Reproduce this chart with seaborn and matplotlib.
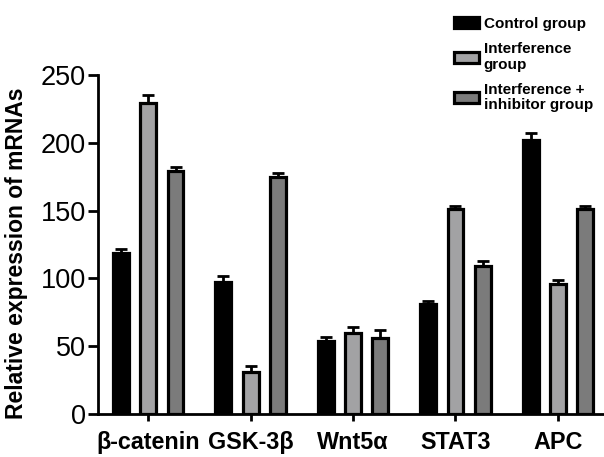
import pandas as pd
import matplotlib
matplotlib.use("Agg")
import matplotlib.pyplot as plt
import seaborn as sns

# data
genes = ["β-catenin", "GSK-3β", "Wnt5α", "STAT3", "APC"]
groups = ["Control group", "Interference\ngroup", "Interference +\ninhibitor group"]
control = [119, 97, 54, 81, 202]
interference = [229, 31, 60, 151, 96]
inhibitor = [179, 175, 56, 109, 151]
control_err = [3, 5, 2.5, 2.5, 5]
interference_err = [6, 4.5, 4, 2.5, 3]
inhibitor_err = [3.5, 2.5, 6, 4, 2.5]

colors = ["#000000", "#a2a2a4", "#7b7b7b"]

records = []
for g, vals in zip(groups, [control, interference, inhibitor]):
    for gene, v in zip(genes, vals):
        records.append({"gene": gene, "group": g, "value": v})
df = pd.DataFrame(records)

sns.set_theme(style="ticks")
plt.rcParams["font.family"] = ["Liberation Sans", "DejaVu Sans"]
plt.rcParams["text.color"] = "black"
plt.rcParams["axes.labelcolor"] = "black"

fig = plt.figure(figsize=(6.04, 4.57), dpi=100)
ax = fig.add_axes([98 / 604, 43 / 457, 506 / 604, 339 / 457])

sns.barplot(data=df, x="gene", y="value", hue="group", hue_order=groups,
            palette=colors, edgecolor="black", linewidth=2.3,
            width=0.8, gap=0.42, errorbar=None, ax=ax)

# upward-only error bars
for cont, errs in zip(ax.containers, [control_err, interference_err, inhibitor_err]):
    xs = [b.get_x() + b.get_width() / 2 for b in cont]
    ys = [b.get_height() for b in cont]
    ax.errorbar(xs, ys, yerr=[[0] * len(errs), errs], fmt="none",
                ecolor="black", elinewidth=2, capsize=4, capthick=2, zorder=1)

ax.set_ylim(0, 250)
ax.set_xlim(-0.49, 4.45)
ax.set_yticks([0, 50, 100, 150, 200, 250])
ax.set_xlabel("")
ax.set_ylabel("Relative expression of mRNAs", fontsize=16.5, fontweight="bold",
              color="black")
ax.yaxis.set_label_coords(-0.138, 0.475)

sns.despine(ax=ax)
for s in ["left", "bottom"]:
    ax.spines[s].set_linewidth(2)
    ax.spines[s].set_color("black")
ax.tick_params(axis="both", width=2, direction="out", colors="black")
ax.tick_params(axis="y", labelsize=19.5, length=7, pad=1.5)
ax.tick_params(axis="x", labelsize=16.8, length=5, pad=7)
for lab in ax.get_xticklabels():
    lab.set_fontweight("bold")

leg = ax.legend(loc="upper left", bbox_to_anchor=(454 / 604, 1 - 17 / 457),
                bbox_transform=fig.transFigure, frameon=False,
                prop={"weight": "bold", "size": 11}, handlelength=1.65,
                handleheight=0.75, handletextpad=0.3, labelspacing=0.75,
                borderpad=0, borderaxespad=0)
for t in leg.get_texts():
    t.set_linespacing(1.1)

fig.savefig("out.png", dpi=100)
